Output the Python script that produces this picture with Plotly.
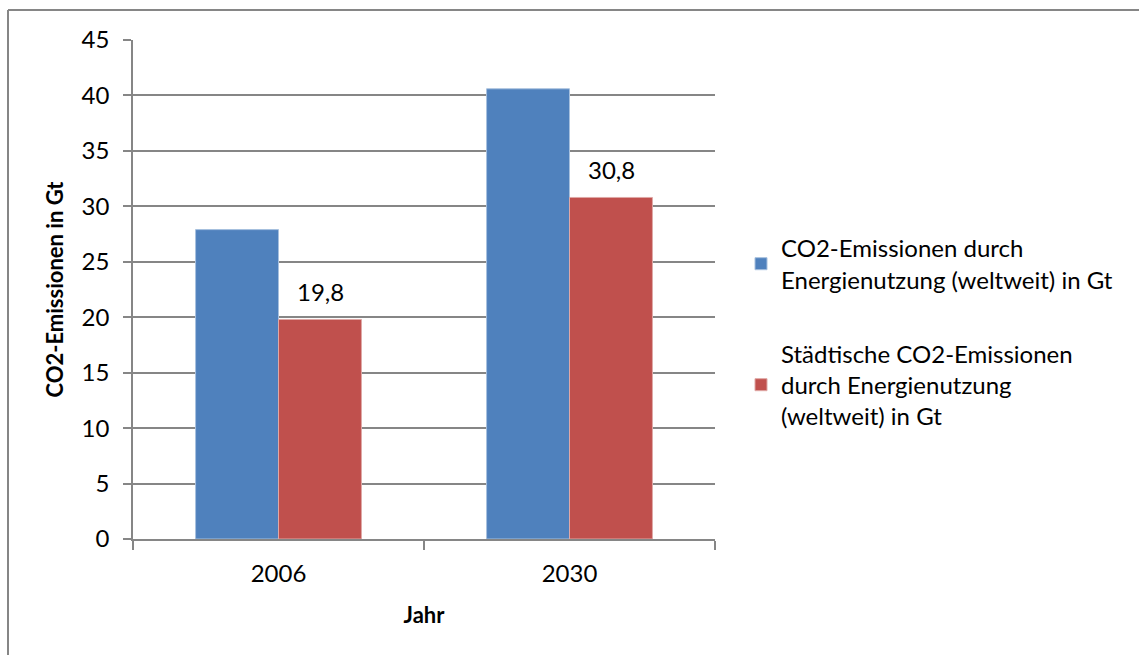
import plotly.graph_objects as go

# Jahre und Emissionswerte (Gt CO2)
jahre = ["2006", "2030"]
emissionen_gesamt = [27.9, 40.6]
emissionen_staedtisch = [19.8, 30.8]

name_gesamt = "CO2-Emissionen durch<br>Energienutzung (weltweit) in Gt"
name_staedtisch = "Städtische CO2-Emissionen<br>durch Energienutzung<br>(weltweit) in Gt"

y_ticks = [0, 5, 10, 15, 20, 25, 30, 35, 40, 45]

FONT = "Lato, 'Open Sans', sans-serif"
GRAU = "#868686"

fig = go.Figure()
fig.add_trace(go.Bar(
    x=jahre, y=emissionen_gesamt, name=name_gesamt,
    marker=dict(color="#4F81BD", line=dict(color="#A7C0DE", width=1)),
    legendgroup="a",
))
fig.add_trace(go.Bar(
    x=jahre, y=emissionen_staedtisch, name=name_staedtisch,
    marker=dict(color="#C0504D", line=dict(color="#DFA8A6", width=1)),
    legendgroup="b",
))

W, H = 1139, 655
L, R, T, B = 133, 715, 40, 539
pw, ph = R - L, B - T


def px(x):
    return (x - L) / pw


def py(y):
    return (B - y) / ph


# Datenbeschriftung der städtischen Emissionen über den roten Balken
# (Kategorieachse: Annotationen werden über den Kategorieindex positioniert)
for idx, wert in enumerate(emissionen_staedtisch):
    fig.add_annotation(
        x=idx, y=wert, text=f"{wert:.1f}".replace(".", ","),
        showarrow=False, xanchor="center", yanchor="bottom",
        xshift=42, yshift=11,
        font=dict(size=24, family=FONT, color="#000000"),
    )

fig.update_layout(
    width=W, height=H,
    margin=dict(l=L, r=W - R, t=T, b=H - B, autoexpand=False),
    paper_bgcolor="white", plot_bgcolor="white",
    separators=",.",
    font=dict(family=FONT, size=24, color="#000000"),
    barmode="group", bargap=0.43, bargroupgap=0,
    showlegend=True,
    legend=dict(
        x=px(741), y=py(226), xanchor="left", yanchor="top",
        font=dict(size=24, family=FONT),
        traceorder="grouped", tracegroupgap=40,
        itemwidth=30, bgcolor="rgba(0,0,0,0)",
    ),
    xaxis=dict(
        type="category", categoryorder="array", categoryarray=jahre,
        range=[-0.5, len(jahre) - 0.5], autorange=False,
        showgrid=False,
        showline=True, linecolor=GRAU, linewidth=1.5,
        ticks="outside", tickson="boundaries", ticklen=9, tickcolor=GRAU, tickwidth=1.5,
        tickfont=dict(size=24), ticklabelstandoff=12, tickangle=0,
        title=dict(text="<b>Jahr</b>", font=dict(size=22), standoff=22),
    ),
    yaxis=dict(
        range=[0, 45], tickvals=y_ticks,
        showgrid=True, gridcolor=GRAU, gridwidth=1.5,
        showline=True, linecolor=GRAU, linewidth=1.5,
        ticks="outside", ticklen=8, tickcolor=GRAU, tickwidth=1.5,
        tickfont=dict(size=24), ticklabelstandoff=9, zeroline=False,
        title=dict(text="<b>CO2-Emissionen in Gt</b>", font=dict(size=22), standoff=12),
    ),
)

# Rahmen des Diagrammbereichs (links und oben)
fig.add_shape(type="line", xref="paper", yref="paper",
              x0=px(8), x1=px(W + 5), y0=py(10), y1=py(10),
              line=dict(color=GRAU, width=2))
fig.add_shape(type="line", xref="paper", yref="paper",
              x0=px(8), x1=px(8), y0=py(10), y1=py(H + 5),
              line=dict(color=GRAU, width=2))

fig.write_html("out.html")
